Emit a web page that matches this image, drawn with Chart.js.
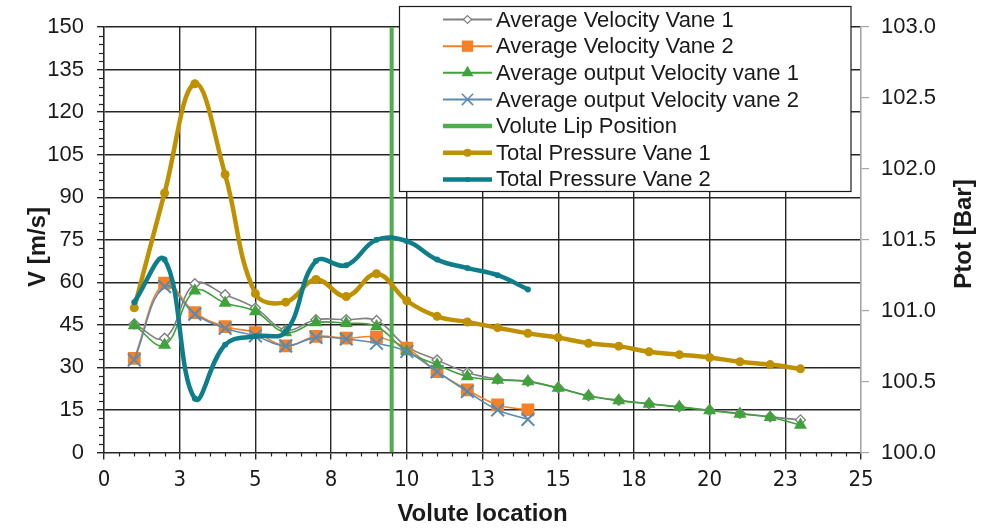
<!DOCTYPE html>
<html><head><meta charset="utf-8">
<script src="https://cdn.jsdelivr.net/npm/chart.js@4/dist/chart.umd.min.js"></script>
<style>html,body{margin:0;padding:0;background:#fff;}canvas{display:block;}</style>
</head><body>
<canvas id="c" width="987" height="529"></canvas>
<script>
// ---- data ----
const volutePositions = [1,2,3,4,5,6,7,8,9,10,11,12,13,14,15,16,17,18,19,20,21,22,23];
const avgVelocityVane1 = [45.3,40.3,59.5,55.6,50.9,43.2,46.8,46.8,46.5,37.3,32.6,28.2,25.9,25.1,22.8,20.0,18.4,17.2,16.1,14.9,13.8,12.6,11.5];
const avgVelocityVane2 = [33.2,59.7,49.3,44.4,42.3,37.6,40.9,40.3,40.7,36.8,28.5,22.1,16.8,15.0];
const avgOutputVelocityVane1 = [44.8,37.9,57.0,52.7,49.7,42.3,45.8,45.6,44.4,35.6,30.9,26.8,25.6,25.0,22.7,19.9,18.3,17.1,16.0,14.8,13.6,12.4,9.7];
const avgOutputVelocityVane2 = [32.6,58.5,48.8,43.8,41.1,37.6,40.6,40.0,38.5,35.6,28.5,21.5,15.0,11.7];
const voluteLipX = [9.5, 9.5];
const voluteLipY = [0, 150];
const totalPressureVane1 = [101.02,101.83,102.60,101.96,101.12,101.06,101.22,101.10,101.26,101.07,100.96,100.92,100.88,100.84,100.81,100.77,100.75,100.71,100.69,100.67,100.64,100.62,100.59];
const totalPressureVane2 = [101.06,101.36,100.38,100.76,100.82,100.85,101.35,101.32,101.50,101.49,101.36,101.30,101.25,101.15];
const xTickLabels = ['0','3','5','8','10','13','15','18','20','23','25'];
const yTickLabels = ['0','15','30','45','60','75','90','105','120','135','150'];
const y2TickLabels = ['100.0','100.5','101.0','101.5','102.0','102.5','103.0'];
const seriesLabels = ['Average Velocity Vane 1','Average Velocity Vane 2','Average output Velocity vane 1','Average output Velocity vane 2','Volute Lip Position','Total Pressure Vane 1','Total Pressure Vane 2'];
const axisTitles = {x:'Volute location', y:'V [m/s]', y2:'Ptot [Bar]'};

const pts = (xs, ys) => ys.map((v, i) => ({x: xs[i], y: v}));

const C = {gray:'#808080', orange:'#F58025', green:'#3FA23A', cross:'#5A8AB2', lip:'#4CAF4C', gold:'#BF9000', teal:'#0E7E8A'};
const GRID = '#262626', TXT = '#1a1a1a';

const datasets = [
  {label: seriesLabels[0], data: pts(volutePositions, avgVelocityVane1), yAxisID:'y', borderColor:C.gray, borderWidth:1.6,
   pointStyle:'rectRot', pointRadius:5, pointBackgroundColor:'#fff', pointBorderColor:C.gray, pointBorderWidth:1.4, tension:0.4, order:7,
   lg:{lw:2, style:'rectRot', r:4, fill:'#fff', bw:1.2}},
  {label: seriesLabels[1], data: pts(volutePositions, avgVelocityVane2), yAxisID:'y', borderColor:C.orange, borderWidth:1.6,
   pointStyle:'rect', pointRadius:9, pointBackgroundColor:C.orange, pointBorderColor:C.orange, pointBorderWidth:0, tension:0.4, order:6,
   lg:{lw:2, style:'rect', r:8, fill:C.orange, bw:0}},
  {label: seriesLabels[2], data: pts(volutePositions, avgOutputVelocityVane1), yAxisID:'y', borderColor:C.green, borderWidth:1.6,
   pointStyle:'triangle', pointRadius:7.5, pointBackgroundColor:C.green, pointBorderColor:C.green, pointBorderWidth:0, tension:0.4, order:5,
   lg:{lw:2, style:'triangle', r:7, fill:C.green, bw:0}},
  {label: seriesLabels[3], data: pts(volutePositions, avgOutputVelocityVane2), yAxisID:'y', borderColor:C.cross, borderWidth:1.6,
   pointStyle:'crossRot', pointRadius:9, pointBackgroundColor:C.cross, pointBorderColor:C.cross, pointBorderWidth:2, tension:0.4, order:4,
   lg:{lw:2, style:'crossRot', r:8, fill:C.cross, bw:1.5}},
  {label: seriesLabels[4], data: pts(voluteLipX, voluteLipY), yAxisID:'y', borderColor:C.lip, borderWidth:4,
   pointRadius:0, tension:0, order:3, lg:{lw:4.5, style:null}},
  {label: seriesLabels[5], data: pts(volutePositions, totalPressureVane1), yAxisID:'y2', borderColor:C.gold, borderWidth:4.5,
   pointStyle:'circle', pointRadius:4.5, pointBackgroundColor:C.gold, pointBorderColor:C.gold, pointBorderWidth:0, tension:0.4, order:2,
   lg:{lw:4.5, style:'circle', r:4, fill:C.gold, bw:0}},
  {label: seriesLabels[6], data: pts(volutePositions, totalPressureVane2), yAxisID:'y2', borderColor:C.teal, borderWidth:4.5,
   pointStyle:'circle', pointRadius:3, pointBackgroundColor:C.teal, pointBorderColor:C.teal, pointBorderWidth:0, tension:0.4, order:1,
   lg:{lw:4.5, style:'circle', r:2.5, fill:C.teal, bw:0}}
];

const extrasPlugin = {
  id: 'extras',
  beforeDatasetsDraw(chart) {
    const ctx = chart.ctx, xs = chart.scales.x, ys = chart.scales.y, a = chart.chartArea;
    ctx.save();
    ctx.strokeStyle = GRID; ctx.lineWidth = 1.2;
    for (let v = 0.5; v < 25; v += 0.5) {
      if (Math.abs(v / 2.5 - Math.round(v / 2.5)) < 1e-6) continue;
      const px = Math.round(xs.getPixelForValue(v)) + 0.5;
      ctx.beginPath(); ctx.moveTo(px, a.bottom); ctx.lineTo(px, a.bottom + 4); ctx.stroke();
    }
    for (let v = 3; v < 150; v += 3) {
      if (v % 15 === 0) continue;
      const py = Math.round(ys.getPixelForValue(v)) + 0.5;
      ctx.beginPath(); ctx.moveTo(a.left - 5, py); ctx.lineTo(a.left, py); ctx.stroke();
    }
    ctx.restore();
  },
  afterDraw(chart) {
    const ctx = chart.ctx;
    ctx.save();
    ctx.fillStyle = TXT; ctx.font = 'bold 24px "Liberation Sans", Arial, sans-serif';
    ctx.textAlign = 'center'; ctx.textBaseline = 'middle';
    ctx.save(); ctx.translate(38, 247); ctx.rotate(-Math.PI/2); ctx.fillText(axisTitles.y, 0, 0); ctx.restore();
    ctx.save(); ctx.translate(964, 234); ctx.rotate(-Math.PI/2); ctx.fillText(axisTitles.y2, 0, 0); ctx.restore();
    const bx = 399.5, by = 6.5, bw = 451.5, bh = 185;
    ctx.fillStyle = '#fff'; ctx.fillRect(bx, by, bw, bh);
    ctx.strokeStyle = '#1a1a1a'; ctx.lineWidth = 1.2; ctx.strokeRect(bx, by, bw, bh);
    ctx.font = '22px "Liberation Sans", Arial, sans-serif';
    ctx.textAlign = 'left'; ctx.textBaseline = 'middle';
    chart.data.datasets.forEach((ds, i) => {
      const y = 19.5 + i * 26.65;
      ctx.strokeStyle = ds.borderColor; ctx.lineWidth = ds.lg.lw;
      ctx.beginPath(); ctx.moveTo(443, y); ctx.lineTo(492, y); ctx.stroke();
      if (ds.lg.style) {
        ctx.fillStyle = ds.lg.fill; ctx.strokeStyle = ds.borderColor; ctx.lineWidth = ds.lg.bw;
        Chart.helpers.drawPoint(ctx, {pointStyle: ds.lg.style, radius: ds.lg.r, borderWidth: ds.lg.bw, rotation: 0}, 467.5, y);
      }
      ctx.fillStyle = TXT;
      ctx.fillText(ds.label, 496, y + 1);
    });
    ctx.restore();
  }
};

const tickFont = {family: '"Liberation Sans", Arial, sans-serif', size: 22};

new Chart(document.getElementById('c'), {
  type: 'line',
  data: {datasets},
  options: {
    responsive: false, animation: false, devicePixelRatio: 1,
    layout: {padding: {top: 27, left: 0, right: 0, bottom: 0}},
    plugins: {legend: {display: false}, tooltip: {enabled: false}},
    scales: {
      x: {
        type: 'linear', min: 0, max: 25,
        ticks: {stepSize: 2.5, autoSkip: false, maxRotation: 0, color: TXT, padding: 8,
                font: {family: '"Liberation Sans Narrow", "DejaVu Sans Condensed", "Liberation Sans", sans-serif', size: 22},
                callback: (v, i) => xTickLabels[i]},
        grid: {color: c => (c.index === 0 || c.index === 10) ? 'rgba(0,0,0,0)' : GRID, tickColor: GRID, tickLength: 7, lineWidth: 1.4},
        border: {color: GRID, width: 1.6},
        title: {display: true, text: axisTitles.x, color: TXT, padding: {top: 0, bottom: 0},
                font: {family: '"Liberation Sans", Arial, sans-serif', size: 24, weight: 'bold'}},
        afterFit: s => { s.height = 76.5; }
      },
      y: {
        type: 'linear', position: 'left', min: 0, max: 150,
        ticks: {stepSize: 15, color: TXT, padding: 13, font: tickFont, callback: (v, i) => yTickLabels[i]},
        grid: {color: c => c.index === 0 ? 'rgba(0,0,0,0)' : GRID, tickColor: GRID, tickLength: 7, lineWidth: 1.4},
        border: {color: GRID, width: 1.6},
        afterFit: s => { s.width = 104; }
      },
      y2: {
        type: 'linear', position: 'right', min: 100, max: 103,
        ticks: {stepSize: 0.5, color: TXT, padding: 12, font: tickFont, callback: (v, i) => y2TickLabels[i]},
        grid: {drawOnChartArea: false, tickColor: '#a6a6a6', tickLength: 8, lineWidth: 1.2},
        border: {color: '#a6a6a6', width: 1.6},
        afterFit: s => { s.width = 126; }
      }
    }
  },
  plugins: [extrasPlugin]
});
</script>
</body></html>
